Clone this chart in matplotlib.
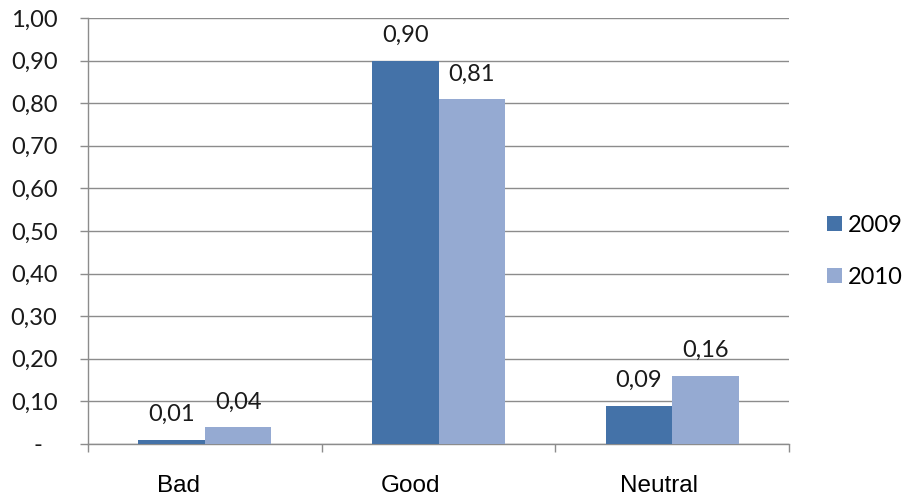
import matplotlib
matplotlib.use("Agg")
import matplotlib.pyplot as plt
import numpy as np
from matplotlib.transforms import ScaledTranslation

categories = ["Bad", "Good", "Neutral"]
series_names = ["2009", "2010"]
values_2009 = [0.01, 0.90, 0.09]
values_2010 = [0.04, 0.81, 0.16]
value_labels_2009 = ["0,01", "0,90", "0,09"]
value_labels_2010 = ["0,04", "0,81", "0,16"]
y_ticks = [0.0, 0.1, 0.2, 0.3, 0.4, 0.5, 0.6, 0.7, 0.8, 0.9, 1.0]
y_tick_labels = ["-", "0,10", "0,20", "0,30", "0,40", "0,50", "0,60", "0,70", "0,80", "0,90", "1,00"]

c2009 = "#4472A8"
c2010 = "#95AAD2"
grid_c = "#8C8C8C"
num_font = "Lato"
cat_font = "Liberation Sans"
num_size = 17

fig = plt.figure(figsize=(9.07, 5.0), dpi=100)
ax = fig.add_axes([0.097, 0.112, 0.773, 0.852])

x = np.arange(len(categories))
w = 0.285
b1 = ax.bar(x - w / 2, values_2009, w, color=c2009, label=series_names[0], zorder=3)
b2 = ax.bar(x + w / 2, values_2010, w, color=c2010, label=series_names[1], zorder=3)

for bars, labels in ((b1, value_labels_2009), (b2, value_labels_2010)):
    for rect, lab in zip(bars, labels):
        ax.annotate(lab, (rect.get_x() + rect.get_width() / 2, rect.get_height()),
                    xytext=(0, 18), textcoords="offset points",
                    ha="center", va="center", fontsize=num_size, family=num_font,
                    color="#1a1a1a", zorder=4)

ax.set_ylim(0, 1.0)
ax.set_xlim(-0.5, len(categories) - 0.5)
ax.set_yticks(y_ticks)
ax.set_yticklabels(y_tick_labels, family=num_font, fontsize=num_size, color="#1a1a1a")
ax.tick_params(axis="y", length=6, width=1, color=grid_c, pad=16)

# zero label sits a little further left
for lab in ax.get_yticklabels():
    if lab.get_text() == "-":
        lab.set_transform(lab.get_transform() + ScaledTranslation(-0.15, 0, fig.dpi_scale_trans))

ax.set_xticks(x)
ax.set_xticklabels(categories, family=cat_font, fontsize=17.5, color="#000000")
ax.tick_params(axis="x", which="major", length=0, pad=22)
ax.set_xticks(np.arange(len(categories) + 1) - 0.5, minor=True)
ax.tick_params(axis="x", which="minor", length=6, width=1, color=grid_c)

# category labels sit left of their group centres
shift_px = [-26, -28, -13]
for lab, dx in zip(ax.get_xticklabels(), shift_px):
    lab.set_transform(lab.get_transform() + ScaledTranslation(dx / 100, 0, fig.dpi_scale_trans))

ax.yaxis.grid(True, color=grid_c, linewidth=1, zorder=0)
ax.set_axisbelow(True)
for s in ("top", "right"):
    ax.spines[s].set_visible(False)
for s in ("left", "bottom"):
    ax.spines[s].set_color(grid_c)
    ax.spines[s].set_linewidth(1)

leg = fig.legend(loc="center left", bbox_to_anchor=(0.912, 0.497), frameon=False,
                 prop={"family": num_font, "size": num_size}, handlelength=0.62,
                 handleheight=0.62, handletextpad=0.25, labelspacing=1.32,
                 borderpad=0, borderaxespad=0)

fig.savefig("out.png", dpi=100, facecolor="white")
